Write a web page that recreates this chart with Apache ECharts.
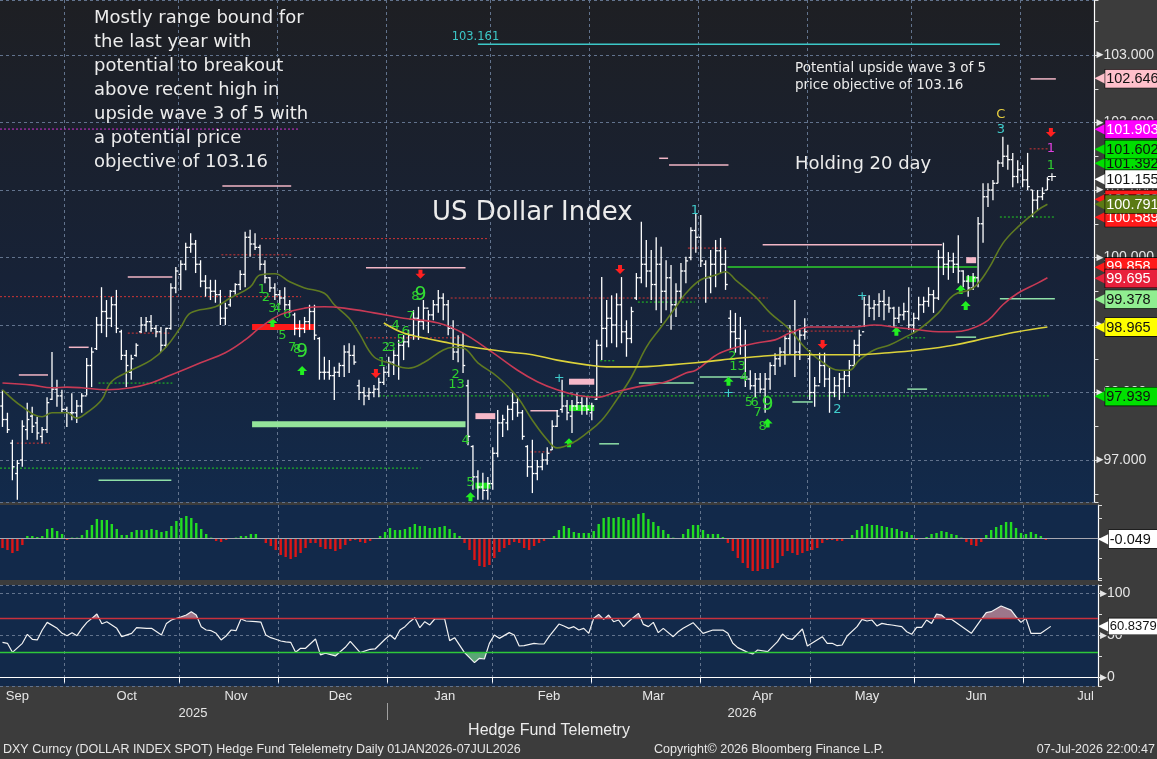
<!DOCTYPE html>
<html><head><meta charset="utf-8">
<script src="https://cdn.jsdelivr.net/npm/echarts@6/dist/echarts.min.js"></script>
<style>html,body{margin:0;padding:0;background:#3c3c3c;}#c{width:1157px;height:759px;}</style>
</head><body><div id="c"></div>
<script>
// ---------------- DATA ----------------
const HOLIDAYS = ['2025-12-25', '2026-01-01'];
const FIRST_DAY = '2025-09-11', LAST_DAY = '2026-07-07';
const PAD_SLOTS = 9;
const MONTH_NAMES = ['Jan','Feb','Mar','Apr','May','Jun','Jul','Aug','Sep','Oct','Nov','Dec'];

const OPEN = [97.80,97.60,97.25,96.80,97.00,97.45,97.65,97.55,97.35,97.45,
97.90,98.05,97.95,97.75,97.70,97.70,97.80,97.95,98.40,98.65,
99.00,99.20,99.10,99.30,98.90,98.55,98.30,98.55,98.90,99.00,
99.05,98.95,98.90,98.70,98.95,99.55,99.75,99.90,100.15,100.20,
99.90,99.65,99.55,99.50,99.45,99.10,99.30,99.50,99.60,99.75,
100.30,100.20,100.15,99.90,99.70,99.55,99.45,99.40,99.30,99.15,
98.95,98.95,99.05,99.20,98.80,98.30,98.30,98.25,98.30,98.40,
98.60,98.55,98.10,98.00,97.95,98.00,98.05,98.15,98.30,98.45,
98.55,98.70,98.75,98.85,99.10,99.05,99.25,99.15,99.30,99.40,
99.30,98.95,98.60,98.70,98.10,97.20,96.75,96.60,96.55,96.65,
97.10,97.55,97.55,97.75,97.85,97.70,97.20,96.90,96.80,96.90,
97.00,97.15,97.50,97.75,97.80,97.65,97.80,97.85,97.80,97.70,
97.90,98.70,98.95,99.10,99.00,99.30,98.90,98.80,99.40,99.70,
99.90,99.80,99.60,99.90,99.50,99.70,99.30,99.50,99.80,100.00,
100.40,100.30,99.90,99.70,99.90,100.10,99.90,99.10,98.90,98.80,
98.70,98.20,98.10,98.20,98.05,98.20,98.40,98.50,98.60,98.80,
98.90,98.60,98.85,98.50,98.00,98.10,98.40,98.20,98.00,98.10,
98.20,98.25,98.40,98.70,98.90,99.30,99.25,99.30,99.35,99.30,
99.25,99.10,99.15,99.20,99.00,99.10,99.30,99.35,99.45,99.40,
100.00,99.90,99.95,99.90,99.80,99.65,99.55,99.70,100.50,100.90,
101.00,101.10,101.40,101.50,101.45,101.20,101.30,101.15,101.00,100.85,
100.90,101.00];
const HIGH = [98.04,97.70,97.30,97.00,97.59,97.85,97.79,97.64,97.49,97.93,
98.60,98.19,98.04,97.79,97.99,97.89,97.99,98.51,98.67,99.12,
99.56,99.37,99.42,99.52,98.93,98.63,98.56,98.73,99.12,99.12,
99.15,99.00,98.97,98.96,99.62,99.86,99.96,100.22,100.36,100.26,
99.96,99.74,99.67,99.67,99.52,99.33,99.52,99.62,99.81,100.38,
100.41,100.36,100.19,99.96,99.71,99.62,99.52,99.56,99.37,99.18,
99.07,99.12,99.30,99.30,98.82,98.53,98.48,98.38,98.44,98.70,
98.73,98.70,98.19,98.08,98.07,98.11,98.22,98.38,98.53,98.63,
98.78,98.85,98.93,99.22,99.27,99.37,99.22,99.37,99.52,99.47,
99.37,99.07,98.85,98.88,98.19,97.22,96.85,96.81,96.75,97.19,
97.74,97.67,97.81,97.99,97.93,97.74,97.22,97.30,97.00,97.10,
97.19,97.59,97.74,98.19,97.89,97.89,97.99,97.93,97.93,97.85,
98.78,99.71,99.37,99.44,99.47,99.71,99.07,99.27,99.77,100.53,
100.26,100.11,100.30,100.16,99.96,99.89,99.62,99.92,100.01,100.45,
100.66,100.63,99.96,100.11,100.26,100.29,100.11,99.22,99.18,99.12,
98.93,98.33,98.29,98.29,98.29,98.45,98.58,98.67,98.85,99.00,
99.37,98.93,99.10,98.63,98.23,98.59,98.59,98.38,98.23,98.29,
98.33,98.48,98.78,98.93,99.42,99.44,99.37,99.47,99.52,99.42,
99.27,99.27,99.33,99.56,99.18,99.42,99.42,99.56,99.52,100.11,
100.22,100.08,100.07,100.33,99.81,99.74,99.77,100.60,101.10,101.10,
101.15,101.44,101.79,101.67,101.55,101.44,101.37,101.55,101.00,101.00,
101.04,101.19];
const LOW = [97.49,97.40,96.70,96.41,96.90,97.30,97.40,97.30,97.25,97.40,
97.89,97.79,97.70,97.49,97.59,97.55,97.70,97.96,98.08,98.63,
98.88,98.82,98.97,98.88,98.48,98.08,98.19,98.53,98.88,98.90,
98.90,98.82,98.60,98.67,98.93,99.47,99.52,99.81,100.07,99.77,
99.56,99.42,99.37,99.33,99.00,99.00,99.27,99.45,99.52,99.56,
100.01,100.11,99.81,99.62,99.49,99.37,99.30,99.22,99.18,98.85,
98.82,98.88,98.93,98.78,98.19,98.19,98.19,97.89,98.23,98.23,
98.29,98.41,97.89,97.81,97.89,97.93,97.93,98.11,98.23,98.26,
98.19,98.48,98.67,98.78,98.78,98.93,98.88,99.07,99.18,99.07,
98.85,98.48,98.45,98.29,97.22,96.56,96.41,96.41,96.41,96.56,
97.04,97.34,97.44,97.59,97.64,97.30,96.75,96.51,96.70,96.85,
96.93,97.15,97.49,97.70,97.59,97.40,97.74,97.67,97.67,97.59,
97.89,98.48,98.67,98.73,98.67,98.73,98.53,98.73,99.37,99.62,
99.56,99.37,99.22,99.03,99.22,98.93,99.12,99.37,99.62,99.96,
100.07,99.86,99.33,99.47,99.56,99.77,99.52,98.63,98.59,98.56,
98.08,98.04,97.93,97.99,97.70,98.04,98.26,98.38,98.41,98.56,
98.23,98.48,98.78,97.89,97.79,98.14,98.08,97.70,97.93,97.89,
97.99,98.08,98.38,98.53,98.97,99.12,99.07,99.12,99.07,99.18,
98.97,99.03,99.07,98.93,98.88,99.07,99.18,99.27,99.18,99.37,
99.74,99.67,99.77,99.62,99.56,99.42,99.52,99.56,100.22,100.75,
100.85,101.10,101.34,101.30,101.04,101.10,101.04,101.00,100.60,100.70,
100.85,101.00];
const CLOSE = [97.60,97.45,96.90,96.95,97.50,97.60,97.50,97.40,97.45,97.85,
98.05,97.95,97.75,97.70,97.70,97.80,97.95,98.40,98.60,99.00,
99.20,99.10,99.30,98.95,98.55,98.40,98.50,98.70,99.00,99.05,
98.95,98.90,98.70,98.95,99.55,99.80,99.90,100.15,100.20,99.90,
99.65,99.55,99.50,99.45,99.10,99.25,99.50,99.60,99.75,100.30,
100.20,100.15,99.90,99.70,99.55,99.45,99.40,99.30,99.20,98.95,
98.95,99.05,99.20,98.85,98.30,98.30,98.25,98.30,98.40,98.60,
98.55,98.45,98.00,97.95,98.00,98.05,98.15,98.30,98.45,98.55,
98.70,98.75,98.85,99.10,99.05,99.25,99.15,99.30,99.40,99.30,
98.95,98.60,98.70,98.40,97.35,96.75,96.60,96.55,96.65,97.10,
97.55,97.60,97.75,97.85,97.70,97.35,96.90,96.80,96.90,97.00,
97.10,97.50,97.65,97.80,97.70,97.80,97.85,97.80,97.75,97.80,
98.70,98.95,99.10,99.00,99.30,98.90,98.80,99.20,99.70,99.90,
99.80,99.60,99.90,99.50,99.70,99.30,99.50,99.80,99.95,100.40,
100.30,99.95,99.70,99.90,100.10,99.90,99.60,98.90,98.80,98.70,
98.20,98.10,98.20,98.05,98.20,98.40,98.50,98.60,98.80,98.90,
98.60,98.85,98.90,98.00,98.10,98.40,98.20,98.00,98.10,98.20,
98.25,98.40,98.70,98.85,99.30,99.25,99.30,99.35,99.30,99.25,
99.10,99.15,99.20,99.00,99.10,99.30,99.35,99.45,99.40,100.00,
99.90,99.95,99.90,99.80,99.65,99.55,99.70,100.50,100.90,101.00,
101.10,101.40,101.50,101.45,101.20,101.30,101.15,101.05,100.85,100.90,
100.95,101.155];

// moving averages: [bar index, value]
const MA20 = [[0,98.04],[4,97.79],[8,97.64],[10,97.70],[13,97.70],[15,97.62],[17,97.70],[20,97.89],[22,98.16],[26,98.33],[30,98.48],[33,98.67],[36,98.97],[38,99.18],[43,99.27],[46,99.40],[50,99.56],[52,99.74],[55,99.76],[58,99.64],[61,99.55],[65,99.47],[67,99.30],[70,99.10],[72,98.88],[75,98.53],[78,98.44],[82,98.36],[85,98.44],[89,98.63],[91,98.67],[93,98.66],[96,98.44],[100,98.23],[104,97.93],[107,97.59],[110,97.30],[112,97.18],[115,97.25],[118,97.40],[121,97.59],[124,97.89],[127,98.23],[130,98.67],[133,98.97],[136,99.27],[138,99.47],[141,99.67],[144,99.74],[146,99.79],[148,99.67],[152,99.42],[155,99.18],[159,98.93],[162,98.67],[165,98.48],[169,98.33],[171,98.33],[173,98.48],[176,98.63],[179,98.70],[182,98.81],[185,98.93],[189,99.18],[192,99.44],[196,99.55],[199,99.82],[202,100.21],[205,100.45],[209,100.70],[211,100.79]];
const MA50 = [[0,98.14],[6,98.11],[10,98.07],[13,98.08],[16,98.07],[21,98.04],[26,98.07],[30,98.14],[34,98.26],[40,98.44],[45,98.59],[49,98.78],[52,98.96],[56,99.15],[61,99.25],[65,99.27],[69,99.25],[75,99.18],[81,99.10],[88,99.03],[93,98.88],[99,98.59],[104,98.33],[108,98.16],[112,98.04],[116,97.96],[120,97.93],[124,98.01],[128,98.08],[134,98.16],[138,98.29],[140,98.33],[145,98.59],[152,98.73],[156,98.78],[159,98.88],[163,98.97],[167,98.97],[172,98.97],[176,99.00],[181,98.96],[185,98.93],[189,98.90],[192,98.90],[195,98.93],[199,99.07],[202,99.30],[205,99.47],[209,99.62],[211,99.70]];
const MA200 = [[77,99.03],[81,98.88],[85,98.81],[89,98.75],[95,98.67],[102,98.60],[107,98.56],[112,98.48],[118,98.41],[122,98.38],[128,98.38],[135,98.41],[140,98.44],[145,98.48],[152,98.53],[159,98.56],[165,98.56],[172,98.56],[179,98.59],[185,98.63],[192,98.70],[199,98.81],[205,98.90],[211,98.97]];

const HIST = [-0.50,-0.60,-0.75,-0.65,-0.35,0.10,0.10,0.05,0.10,0.45,
0.50,0.35,0.20,-0.10,0.02,0.02,0.15,0.40,0.65,0.95,
0.90,0.90,0.70,0.45,0.15,0.15,0.30,0.40,0.40,0.40,
0.45,0.40,0.30,0.35,0.60,0.85,1.00,1.10,1.00,0.75,
0.45,0.20,0.02,-0.15,-0.20,-0.10,-0.05,0.02,0.10,0.10,
0.20,0.20,-0.02,-0.25,-0.40,-0.60,-0.85,-0.95,-1.05,-0.95,
-0.75,-0.50,-0.25,-0.25,-0.45,-0.55,-0.55,-0.65,-0.55,-0.35,
-0.15,-0.10,-0.20,-0.25,-0.15,-0.05,0.10,0.30,0.50,0.40,
0.40,0.45,0.55,0.70,0.60,0.60,0.50,0.50,0.55,0.60,
0.45,0.25,0.10,-0.25,-0.60,-1.10,-1.40,-1.45,-1.35,-1.00,
-0.70,-0.50,-0.35,-0.20,-0.25,-0.50,-0.60,-0.40,-0.25,-0.15,
-0.05,0.10,0.40,0.60,0.50,0.30,0.25,0.25,0.25,0.35,
0.70,1.00,1.05,1.00,1.05,1.00,0.90,1.00,1.20,1.25,
0.95,0.80,0.60,0.40,0.20,0.02,-0.05,0.20,0.45,0.65,
0.65,0.40,0.20,0.20,0.20,0.05,-0.25,-0.65,-1.00,-1.25,
-1.50,-1.65,-1.65,-1.55,-1.55,-1.50,-1.25,-0.90,-0.65,-0.75,
-0.85,-0.75,-0.65,-0.60,-0.50,-0.25,-0.10,-0.10,-0.15,-0.15,
-0.05,0.15,0.40,0.60,0.70,0.65,0.65,0.60,0.55,0.50,
0.45,0.35,0.30,0.15,-0.10,-0.05,0.05,0.20,0.25,0.35,
0.30,0.20,0.15,0.02,-0.20,-0.35,-0.40,-0.20,0.15,0.40,
0.55,0.65,0.80,0.80,0.50,0.25,0.20,0.30,0.20,0.10,
-0.10,-0.049];

const RSI = [[0,41.9],[1,40.7],[2,30.0],[4,40.7],[5,51.4],[6,45.5],[7,44.7],[8,56.5],[9,65.6],[11,58.5],[12,52.6],[13,49.8],[14,53.4],[15,49.8],[16,58.5],[17,65.6],[18,70.4],[19,75.5],[20,64.0],[21,66.4],[23,58.5],[24,48.6],[26,52.6],[27,59.3],[29,58.5],[30,58.5],[32,50.6],[33,64.4],[34,68.4],[36,72.3],[37,74.3],[38,78.3],[39,74.3],[40,60.5],[41,56.5],[42,55.7],[43,52.6],[44,44.7],[45,49.4],[46,56.5],[47,55.7],[48,69.6],[49,67.2],[51,66.4],[52,66.0],[53,50.6],[54,47.4],[55,45.5],[56,43.5],[57,42.5],[58,41.9],[59,30.0],[60,34.8],[61,34.8],[63,45.8],[64,26.9],[65,28.9],[67,25.7],[69,36.0],[70,43.1],[72,29.6],[74,33.6],[75,34.0],[77,45.5],[78,50.6],[79,45.5],[80,56.5],[81,60.5],[82,66.4],[83,71.1],[84,59.3],[85,66.4],[86,62.5],[87,69.6],[89,69.6],[90,43.9],[91,47.4],[93,29.6],[95,17.8],[96,22.9],[97,22.1],[98,40.7],[99,50.6],[100,46.6],[102,53.4],[103,50.6],[104,37.5],[105,38.0],[107,40.7],[108,39.9],[109,39.9],[110,48.6],[112,63.6],[113,61.3],[114,58.5],[115,60.5],[116,56.5],[117,58.5],[118,52.6],[119,70.4],[120,75.1],[121,69.2],[122,74.3],[123,66.4],[124,68.4],[125,60.5],[126,66.4],[127,71.5],[128,76.3],[129,63.2],[130,60.5],[131,65.6],[132,53.4],[133,58.5],[135,48.6],[136,54.5],[137,58.5],[139,65.2],[141,52.6],[143,56.5],[145,56.5],[146,52.6],[147,40.7],[148,35.6],[150,30.0],[151,28.1],[152,32.8],[154,30.8],[156,42.7],[157,51.8],[158,46.6],[159,45.5],[161,57.7],[162,37.5],[165,48.6],[166,40.7],[167,40.7],[168,37.9],[169,38.7],[170,49.4],[172,60.5],[173,69.2],[174,67.2],[175,68.4],[176,61.3],[177,64.4],[178,63.2],[179,62.5],[181,60.5],[182,54.5],[183,51.4],[184,59.7],[185,59.7],[186,68.4],[187,64.4],[188,75.5],[189,74.3],[190,69.2],[191,69.2],[195,52.6],[197,69.2],[198,77.1],[199,78.3],[201,85.0],[203,80.2],[204,72.3],[205,65.6],[206,70.4],[207,52.6],[209,52.6],[211,60.8379]];
const RSI_UPPER = 70, RSI_LOWER = 30;

// annotation levels: [from index, to index, price]
const CYAN_TARGET = [[96,201.4,103.161]];
const MAGENTA_DOTTED = [[-0.5,60,101.903]];
const RED_DOTTED = [[52.2,98.3,100.28],[44.2,58.5,100.04],[-0.5,60.3,99.42],[25.3,33.7,98.88],[2.9,9.6,97.25],[73.4,92.7,98.81],[90.5,154.5,99.40],[138.4,146.4,100.14],[106.6,110.8,97.12],[153.5,172,98.91],[207.4,211.3,101.61]];
const GREEN_DOTTED = [[-0.5,84.4,96.88],[19.4,34.3,98.14],[76,211.3,97.95],[120.7,123.9,98.47],[128.3,139.8,99.34],[201.4,212.5,100.60],[182.7,186.3,98.81]];
const PALE_GREEN_LINES = [[19.4,34.1,96.70],[120.5,124.5,97.24],[128.5,139.6,98.14],[140.8,150.5,98.23],[159.5,163.6,97.86],[182.7,186.7,98.05],[192.5,196.6,98.82],[201.4,212.5,99.39]];
const PINK_LINES = [[44.4,58.3,101.06],[132.6,134.4,101.47],[134.6,146.6,101.37],[207.6,212.7,102.646],[25.3,34.3,99.71],[13.4,17.4,98.67],[3.3,9.2,98.26],[73.4,93.5,99.85],[153.5,189.7,100.19],[106.6,112.2,97.73]];
const GREEN_SOLID = [[146.4,196.8,99.86]];
const PINK_BLOCKS = [[95.5,99.5,97.65],[114.4,119.5,98.16],[194.6,196.6,99.96]];
const GREEN_BLOCKS = [[95.5,98.5,96.62],[114.4,119.5,97.77],[194.6,196.6,99.68]];
const RED_BAR = [[50.4,63.1,98.97]];
const PALE_GREEN_BAR = [[50.4,93.5,97.53]];

// sequential count labels: [index, price, text]
const TD_GREEN = [[52.4,99.52,'1'],[53.2,99.40,'2'],[54.5,99.25,'3'],[55.5,99.25,'4'],[56.5,98.85,'5'],[57.5,99.15,'6'],[58.5,98.67,'7'],[59.5,98.63,'8'],
[76.6,98.44,'1'],[77.4,98.66,'2'],[78.6,98.66,'3'],[79.4,98.99,'4'],[80.4,98.78,'5'],[81.4,98.90,'6'],[82.4,99.12,'7'],[83.4,99.42,'8'],
[91.5,98.26,'2'],[91.7,98.11,'13'],[93.5,97.28,'4'],[94.5,96.66,'5'],
[147.4,98.53,'2'],[148.4,98.38,'13'],[149.7,98.22,'4'],[150.7,97.85,'5'],[151.9,97.85,'6'],[152.5,97.70,'7'],[153.5,97.49,'8'],
[211.7,101.36,'1']];
const TD_NINE = [[60.5,98.60,'9'],[84.4,99.45,'9'],[154.5,97.82,'9']];
const CYAN_MARKS = [[139.8,100.70,'1'],[168.6,97.74,'2'],[201.6,101.90,'3'],[112.4,98.20,'+'],[146.6,97.99,'+'],[173.6,99.42,'+']];
const YELLOW_MARKS = [[201.6,102.11,'C']];
const MAGENTA_MARKS = [[211.7,101.62,'1']];
const WHITE_MARKS = [[211.9,101.18,'+']];
const TARGET_LABEL = [[95.5,103.27,'103.161']];
const UP_ARROWS = [[54.5,99.03],[60.5,98.32],[94.5,96.45],[114.4,97.25],[146.6,98.16],[154.5,97.54],[180.5,98.90],[193.5,99.52],[194.5,99.28]];
const DOWN_ARROWS = [[75.4,98.29],[84.4,99.76],[124.7,99.83],[165.6,98.72],[211.7,101.86]];

// right-axis value tags: [value, background, text colour]
const PRICE_TAGS = [[102.646,'#ffc0cb','#111'],[101.903,'#ff00ff','#fff'],[101.392,'#00e000','#111'],[101.602,'#00e000','#111'],
[100.858,'#ff1a1a','#fff'],[101.155,'#ffffff','#111'],[100.589,'#ff1a1a','#fff'],[100.791,'#5b7a14','#fff'],
[99.858,'#ff1a1a','#fff'],[99.695,'#e8203c','#fff'],[99.378,'#90ee90','#111'],[98.965,'#ffff00','#111'],[97.939,'#00e000','#111']];
const HIST_TAG = -0.049;
const RSI_TAG = 60.8379;

// ---------------- CATEGORIES ----------------
const iso = d => d.toISOString().slice(0, 10);
const allDays = [];
for (let t = Date.UTC(2025, 8, 1); t <= Date.UTC(2026, 6, 31); t += 86400000) {
  const d = new Date(t), w = d.getUTCDay();
  if (w === 0 || w === 6 || HOLIDAYS.includes(iso(d))) continue;
  allDays.push(iso(d));
}
const offset = allDays.indexOf(FIRST_DAY);
const dates = allDays.filter(s => s >= FIRST_DAY && s <= LAST_DAY);
const cats = dates.concat(Array.from({length: PAD_SLOTS}, (_, k) => 'pad' + k));
const monthSpan = {};
allDays.forEach((s, k) => { const m = s.slice(0, 7), vi = k - offset; if (!monthSpan[m]) monthSpan[m] = [vi, vi]; monthSpan[m][1] = vi; });
const labelMap = {};
Object.keys(monthSpan).forEach(m => { const c = Math.round((monthSpan[m][0] + monthSpan[m][1]) / 2); if (c >= 0 && c < cats.length) labelMap[c] = MONTH_NAMES[+m.slice(5, 7) - 1]; });
const monthEnd = new Set();
dates.forEach((s, i) => { if (i < dates.length - 1 && s.slice(0, 7) !== dates[i + 1].slice(0, 7)) monthEnd.add(i); });

// ---------------- HELPERS ----------------
const FONT = '"Liberation Sans", Arial, sans-serif';
const DJ = '"DejaVu Sans", sans-serif';
const CLEAR = 'rgba(0,0,0,0)';
function xy(api, x, y) { const a = api.coord([0, y]), b = api.coord([1, y]); return [a[0] + x * (b[0] - a[0]), a[1]]; }
function levelSeries(arr, color, width, dash, z) {
  return {type: 'custom', xAxisIndex: 0, yAxisIndex: 0, silent: true, z: z || 3, animation: false,
    data: arr.map(d => [Math.max(0, Math.round(d[0])), d[2]]),
    renderItem: (p, api) => { const d = arr[p.dataIndex]; const a = xy(api, d[0], d[2]), b = xy(api, d[1], d[2]);
      return {type: 'line', shape: {x1: a[0], y1: a[1], x2: b[0], y2: b[1]}, style: {stroke: color, lineWidth: width, lineDash: dash || null}}; }};
}
function blockSeries(arr, color, h, z) {
  return {type: 'custom', xAxisIndex: 0, yAxisIndex: 0, silent: true, z: z || 4, animation: false,
    data: arr.map(d => [Math.max(0, Math.round(d[0])), d[2]]),
    renderItem: (p, api) => { const d = arr[p.dataIndex]; const a = xy(api, d[0], d[2]), b = xy(api, d[1], d[2]);
      return {type: 'rect', shape: {x: a[0], y: a[1] - h / 2, width: b[0] - a[0], height: h}, style: {fill: color}}; }};
}
function textSeries(arr, color, size, fam) {
  return {type: 'custom', xAxisIndex: 0, yAxisIndex: 0, silent: true, z: 6, animation: false,
    data: arr.map(d => [Math.max(0, Math.round(d[0])), d[1]]),
    renderItem: (p, api) => { const d = arr[p.dataIndex]; const q = xy(api, d[0], d[1]);
      return {type: 'text', x: q[0], y: q[1], style: {text: d[2], fill: color, font: size + 'px ' + (fam || DJ), align: 'center', verticalAlign: 'middle'}}; }};
}
const ARROW_SHAPE = [[0, -5], [5, 0], [2, 0], [2, 4], [-2, 4], [-2, 0], [-5, 0]];
function arrowSeries(arr, color, up) {
  const s = up ? 1 : -1;
  return {type: 'custom', xAxisIndex: 0, yAxisIndex: 0, silent: true, z: 6, animation: false,
    data: arr.map(d => [Math.max(0, Math.round(d[0])), d[1]]),
    renderItem: (p, api) => { const d = arr[p.dataIndex]; const q = xy(api, d[0], d[1]);
      return {type: 'polygon', shape: {points: ARROW_SHAPE.map(v => [q[0] + v[0], q[1] + s * v[1]])}, style: {fill: color}}; }};
}
function tagLabel(bg, fg, txt, fs, padR) {
  return {show: true, position: 'end', distance: 0, formatter: '{t|◀}{b|' + txt + '}',
    rich: {t: {color: bg, fontSize: 14, fontFamily: DJ, padding: [0, 0, 0, 0]}, b: {backgroundColor: bg, color: fg, fontSize: fs || 14.5, fontFamily: FONT, padding: [2, padR == null ? 9 : padR, 1, 1], borderColor: '#000', borderWidth: 0.6}}};
}
function tag(v, bg, fg, txt, fs, padR) { return {yAxis: v, lineStyle: {color: CLEAR, width: 1, opacity: 1}, label: tagLabel(bg, fg, txt, fs, padR)}; }
const lbl = v => '{a|▶}' + v;

// ---------------- OPTION ----------------
const series = [];
series.push(levelSeries(GREEN_DOTTED, '#22cc22', 1, [2, 2], 2));
series.push(levelSeries(RED_DOTTED, '#d03535', 1, [2, 2], 2));
series.push(levelSeries(MAGENTA_DOTTED, '#d030d0', 1, [2, 2], 2));
series.push(levelSeries(PINK_LINES, '#f2b6c6', 1.5, null, 2));
series.push(levelSeries(PALE_GREEN_LINES, '#8fe0a8', 1.5, null, 2));
series.push(levelSeries(GREEN_SOLID, '#2ed02e', 1.5, null, 2));
series.push(levelSeries(CYAN_TARGET, '#3cc8c8', 1.5, null, 2));
series.push(blockSeries(PALE_GREEN_BAR, '#94e49a', 6, 3));
series.push(blockSeries(RED_BAR, '#ff1a1a', 6, 4));
series.push(blockSeries(PINK_BLOCKS, '#f6b8c8', 6, 4));
series.push(blockSeries(GREEN_BLOCKS, '#1ee01e', 6, 4));
series.push({type: 'custom', name: 'DXY', xAxisIndex: 0, yAxisIndex: 0, z: 5, animation: false,
  data: dates.map((d, i) => [i, OPEN[i], HIGH[i], LOW[i], CLOSE[i]]),
  encode: {x: 0, y: [1, 2, 3, 4]},
  renderItem: (p, api) => {
    const i = api.value(0);
    const h = api.coord([i, api.value(2)]), l = api.coord([i, api.value(3)]);
    const o = api.coord([i, api.value(1)]), c = api.coord([i, api.value(4)]);
    const st = {stroke: '#ffffff', lineWidth: 1.3};
    return {type: 'group', children: [
      {type: 'line', shape: {x1: h[0], y1: h[1], x2: l[0], y2: l[1]}, style: st},
      {type: 'line', shape: {x1: o[0] - 2.2, y1: o[1], x2: o[0], y2: o[1]}, style: st},
      {type: 'line', shape: {x1: c[0], y1: c[1], x2: c[0] + 2.2, y2: c[1]}, style: st}]};
  }});
series.push({type: 'line', xAxisIndex: 0, yAxisIndex: 0, data: MA20, smooth: 0.4, symbol: 'none', z: 6, lineStyle: {color: '#5f7a22', width: 1.6}, animation: false});
series.push({type: 'line', xAxisIndex: 0, yAxisIndex: 0, data: MA50, smooth: 0.4, symbol: 'none', z: 6, lineStyle: {color: '#c83a55', width: 1.6}, animation: false});
series.push({type: 'line', xAxisIndex: 0, yAxisIndex: 0, data: MA200, smooth: 0.4, symbol: 'none', z: 6, lineStyle: {color: '#dcd23a', width: 1.6}, animation: false});
series.push(textSeries(TD_GREEN, '#2fcf2f', 13));
series.push(textSeries(TD_NINE, '#33dd33', 19));
series.push(textSeries(CYAN_MARKS, '#40cccc', 13));
series.push(textSeries(YELLOW_MARKS, '#e8d040', 13));
series.push(textSeries(MAGENTA_MARKS, '#e040e0', 13));
series.push(textSeries(WHITE_MARKS, '#ffffff', 13));
series.push(textSeries(TARGET_LABEL, '#3cc8c8', 11.5));
series.push(arrowSeries(UP_ARROWS, '#22ee22', true));
series.push(arrowSeries(DOWN_ARROWS, '#ff2020', false));
series.push({type: 'line', xAxisIndex: 0, yAxisIndex: 0, data: [], z: 20, silent: true, animation: false,
  markLine: {silent: true, symbol: ['none', 'none'], animation: false, data: PRICE_TAGS.map(t => tag(t[0], t[1], t[2], t[0].toFixed(3)))}});
series.push({type: 'bar', xAxisIndex: 1, yAxisIndex: 1, data: HIST, barWidth: 2.4, animation: false,
  itemStyle: {color: p => p.value >= 0 ? '#22dd22' : '#dd1616'},
  markLine: {silent: true, symbol: ['none', 'none'], animation: false, data: [
    {yAxis: 0, lineStyle: {color: '#a8a8b0', width: 1.2, type: 'solid'}, label: {show: false}},
    tag(HIST_TAG, '#ffffff', '#111', String(HIST_TAG))]}});
series.push({type: 'line', xAxisIndex: 2, yAxisIndex: 2, data: RSI, symbol: 'none', z: 2, animation: false,
  lineStyle: {width: 0}, areaStyle: {origin: RSI_UPPER, opacity: 1}});
const fillIndex = series.length - 1;
series.push({type: 'line', xAxisIndex: 2, yAxisIndex: 2, data: RSI, symbol: 'none', z: 4, animation: false,
  lineStyle: {color: '#f2f2f2', width: 1.2},
  markLine: {silent: true, symbol: ['none', 'none'], animation: false, data: [
    {yAxis: RSI_UPPER, lineStyle: {color: '#c8303c', width: 1.4, type: 'solid'}, label: {show: false}},
    {yAxis: RSI_LOWER, lineStyle: {color: '#2ec83a', width: 1.4, type: 'solid'}, label: {show: false}},
    tag(RSI_TAG, '#ffffff', '#111', String(RSI_TAG), 13, 1)]}});

const gridBg = new echarts.graphic.LinearGradient(0, 0, 0, 1, [{offset: 0, color: '#1e1f23'}, {offset: 0.55, color: '#172237'}, {offset: 1, color: '#122a4b'}]);
const splitStyle = {color: '#62738d', width: 1, type: [3, 3]};
const option = {
  backgroundColor: '#3c3c3c',
  animation: false,
  grid: [
    {left: 0, right: 59, top: 0, height: 502, show: true, backgroundColor: gridBg, borderWidth: 0},
    {left: 0, right: 59, top: 505, height: 75, show: true, backgroundColor: '#12294a', borderWidth: 0},
    {left: 0, right: 59, top: 585, height: 101, show: true, backgroundColor: '#12294a', borderWidth: 0}],
  xAxis: [0, 1, 2].map(g => ({
    type: 'category', gridIndex: g, data: cats, boundaryGap: true,
    axisLine: {show: g === 2, lineStyle: {color: '#ffffff', width: 1.2}},
    axisTick: {show: g === 2, interval: i => monthEnd.has(i), length: 5, lineStyle: {color: '#ffffff'}},
    axisLabel: {show: g === 2, interval: i => labelMap[i] !== undefined, formatter: (v, i) => labelMap[i] || '',
      color: '#e6e6e6', fontSize: 13, fontFamily: FONT, margin: 4},
    splitLine: {show: true, interval: i => monthEnd.has(i), lineStyle: splitStyle}})),
  yAxis: [
    {type: 'value', gridIndex: 0, position: 'right', min: 96.378, max: 103.815, splitNumber: 7,
      axisLine: {show: true, lineStyle: {color: '#ffffff', width: 1.2}},
      axisTick: {show: true, length: 4, lineStyle: {color: '#dddddd'}},
      minorTick: {show: true, splitNumber: 2, length: 4, lineStyle: {color: '#dddddd'}},
      axisLabel: {showMinLabel: false, showMaxLabel: false, formatter: v => lbl(v.toFixed(3)), color: '#e6e6e6', fontSize: 14, fontFamily: FONT, margin: 2,
        rich: {a: {fontSize: 9, color: '#e6e6e6', fontFamily: DJ}}},
      splitLine: {show: true, lineStyle: splitStyle}},
    {type: 'value', gridIndex: 1, position: 'right', min: -2.1, max: 1.65, splitNumber: 3,
      axisLine: {show: true, lineStyle: {color: '#ffffff', width: 1.2}},
      axisTick: {show: true, length: 4, lineStyle: {color: '#dddddd'}},
      axisLabel: {show: false}, splitLine: {show: false}},
    {type: 'value', gridIndex: 2, position: 'right', min: -10, max: 110, splitNumber: 2,
      axisLine: {show: true, lineStyle: {color: '#ffffff', width: 1.2}},
      axisTick: {show: true, length: 4, lineStyle: {color: '#dddddd'}},
      minorTick: {show: true, splitNumber: 2, length: 4, lineStyle: {color: '#dddddd'}},
      axisLabel: {showMinLabel: false, showMaxLabel: false, formatter: v => lbl(v), color: '#e6e6e6', fontSize: 14, fontFamily: FONT, margin: 2,
        rich: {a: {fontSize: 9, color: '#e6e6e6', fontFamily: DJ}}},
      splitLine: {show: true, lineStyle: splitStyle}}],
  visualMap: [{type: 'piecewise', show: false, seriesIndex: fillIndex, dimension: 1,
    pieces: [{gt: RSI_UPPER, color: 'rgba(196,140,156,0.78)'}, {gte: RSI_LOWER, lte: RSI_UPPER, color: CLEAR}, {lt: RSI_LOWER, color: 'rgba(110,200,130,0.78)'}]}],
  graphic: [
    {type: 'text', x: 94, y: 6, silent: true, z: 100, style: {text: 'Mostly range bound for\nthe last year with\npotential to breakout\nabove recent high in\nupside wave 3 of 5 with\na potential price\nobjective of 103.16',
      fill: '#ececec', font: '18px ' + DJ, lineHeight: 24, align: 'left', verticalAlign: 'top'}},
    {type: 'text', x: 432, y: 213, silent: true, z: 100, style: {text: 'US Dollar Index', fill: '#ececec', font: '26px ' + DJ, align: 'left', verticalAlign: 'middle'}},
    {type: 'text', x: 795, y: 59.5, silent: true, z: 100, style: {text: 'Potential upside wave 3 of 5\nprice objective of 103.16', fill: '#ececec', font: '13.5px ' + DJ, lineHeight: 17, align: 'left', verticalAlign: 'top'}},
    {type: 'text', x: 795, y: 164, silent: true, z: 100, style: {text: 'Holding 20 day', fill: '#ececec', font: '18px ' + DJ, align: 'left', verticalAlign: 'middle'}},
    {type: 'text', x: 193, y: 713, silent: true, style: {text: '2025', fill: '#e6e6e6', font: '13px ' + FONT, align: 'center', verticalAlign: 'middle'}},
    {type: 'text', x: 742, y: 713, silent: true, style: {text: '2026', fill: '#e6e6e6', font: '13px ' + FONT, align: 'center', verticalAlign: 'middle'}},
    {type: 'line', silent: true, shape: {x1: 387.5, y1: 703, x2: 387.5, y2: 720}, style: {stroke: '#a0a0a0', lineWidth: 1}},
    {type: 'text', x: 549, y: 731, silent: true, style: {text: 'Hedge Fund Telemetry', fill: '#ececec', font: '16px ' + FONT, align: 'center', verticalAlign: 'middle'}},
    {type: 'text', x: 3, y: 750, silent: true, style: {text: 'DXY Curncy (DOLLAR INDEX SPOT) Hedge Fund Telelemetry Daily 01JAN2026-07JUL2026', fill: '#e6e6e6', font: '12.5px ' + FONT, align: 'left', verticalAlign: 'middle'}},
    {type: 'text', x: 654, y: 750, silent: true, style: {text: 'Copyright© 2026 Bloomberg Finance L.P.', fill: '#e6e6e6', font: '12.5px ' + FONT, align: 'left', verticalAlign: 'middle'}},
    {type: 'text', x: 1155, y: 750, silent: true, style: {text: '07-Jul-2026 22:00:47', fill: '#e6e6e6', font: '12.5px ' + FONT, align: 'right', verticalAlign: 'middle'}}],
  series: series
};
const chart = echarts.init(document.getElementById('c'));
chart.setOption(option);
</script></body></html>
